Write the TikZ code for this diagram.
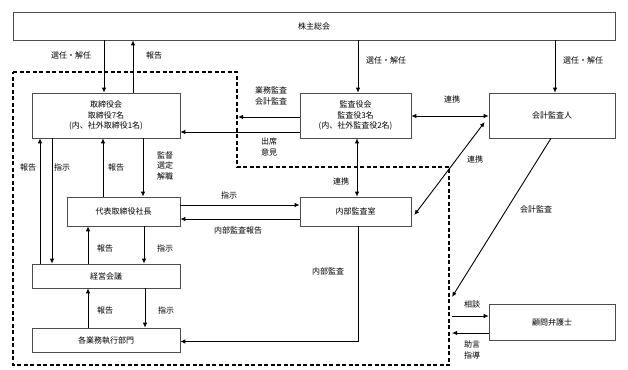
\documentclass[tikz,border=0pt]{standalone}
\usepackage{fontspec}
\setmainfont{Noto Sans CJK JP}
\usetikzlibrary{arrows.meta}
\begin{document}
\begin{tikzpicture}[x=1pt,y=-1pt,
  font=\fontsize{8}{10.5}\selectfont,
  box/.style={draw=black!70,line width=0.6pt,fill=white,inner sep=0pt,align=center},
  arr/.style={line width=0.9pt,-{Latex[length=5pt,width=4.5pt]}},
  dbl/.style={line width=0.9pt,{Latex[length=5pt,width=4.5pt]}-{Latex[length=5pt,width=4.5pt]}},
  lbl/.style={inner sep=0pt,align=center},
  bound/.style={line width=1.1pt,dash pattern=on 4pt off 2.5pt}]
\useasboundingbox (0,0) rectangle (628,369);
\fill[white] (0,0) rectangle (628,369);

% dashed boundary
\draw[bound] (13,72) -- (237,72) -- (237,167) -- (449,167) -- (449,365) -- (13,365) -- cycle;

% boxes
\node[box,minimum width=602pt,minimum height=28pt] (sh) at (314,26) {株主総会};
\node[box,minimum width=148pt,minimum height=45pt] (board) at (106,115.5) {取締役会\\取締役7名\\(内、社外取締役1名)};
\node[box,minimum width=111pt,minimum height=45pt] (kansa) at (355.5,115.5) {監査役会\\監査役3名\\(内、社外監査役2名)};
\node[box,minimum width=126pt,minimum height=45pt] (kaikei) at (552,115.5) {会計監査人};
\node[box,minimum width=113pt,minimum height=29pt] (pres) at (123.5,211.5) {代表取締役社長};
\node[box,minimum width=111pt,minimum height=29pt] (naibu) at (355.5,211.5) {内部監査室};
\node[box,minimum width=148pt,minimum height=24pt] (keiei) at (106,276) {経営会議};
\node[box,minimum width=148pt,minimum height=24pt] (kaku) at (106,340) {各業務執行部門};
\node[box,minimum width=126pt,minimum height=36pt] (komon) at (552,322) {顧問弁護士};

% free ends on the boundary
\coordinate (bgyomu) at (238,117);
\coordinate (bkaikei) at (452,297);
\coordinate (bsodan) at (452,316);
\coordinate (bjogen) at (452,333);

% shareholders
\draw[arr] (104,0 |- sh.south) -- (104,0 |- board.north);
\draw[arr] (133,0 |- board.north) -- (133,0 |- sh.south);
\draw[arr] (358,0 |- sh.south) -- (358,0 |- kansa.north);
\draw[arr] (555,0 |- sh.south) -- (555,0 |- kaikei.north);

% auditors
\draw[dbl] (0,116 -| kansa.east) -- (0,116 -| kaikei.west);
\draw[arr] (0,117 -| kansa.west) -- (bgyomu);
\draw[arr] (0,132 -| kansa.west) -- (0,132 -| board.east);
\draw[dbl] (357,0 |- kansa.south) -- (357,0 |- naibu.north);
\draw[dbl] ([shift={(-4,6.5)}]kaikei.west) -- ([shift={(3,3.5)}]naibu.east);
\draw[arr] (551,0 |- kaikei.south) -- (bkaikei);

% board internal
\draw[arr] (40,0 |- keiei.north) -- (40,0 |- board.south);
\draw[arr] (52,0 |- board.south) -- (52,0 |- keiei.north);
\draw[arr] (103,0 |- pres.north) -- (103,0 |- board.south);
\draw[arr] (143,0 |- board.south) -- (143,0 |- pres.north);

\draw[arr] (0,205 -| pres.east) -- (0,205 -| naibu.west);
\draw[arr] (0,219 -| naibu.west) -- (0,219 -| pres.east);

\draw[arr] (88,0 |- keiei.north) -- (88,0 |- pres.south);
\draw[arr] (144,0 |- pres.south) -- (144,0 |- keiei.north);
\draw[arr] (88,0 |- kaku.north) -- (88,0 |- keiei.south);
\draw[arr] (145,0 |- keiei.south) -- (145,0 |- kaku.north);

\draw[arr] (358,0 |- naibu.south) |- ([yshift=-1.5pt]kaku.east);

% lawyer
\draw[arr] (bsodan) -- (bsodan -| komon.west);
\draw[arr] (bjogen -| komon.west) -- (bjogen);

% labels
\node[lbl] (l1) at (71,55) {選任・解任};
\node[lbl] (l2) at (154,55) {報告};
\node[lbl] (l3) at (386,60) {選任・解任};
\node[lbl] (l4) at (583,60) {選任・解任};
\node[lbl] (l5) at (452,99) {連携};
\node[lbl] (l6) at (271,96) {業務監査\\会計監査};
\node[lbl] (l7) at (269,147) {出席\\意見};
\node[lbl] (l8) at (28,167) {報告};
\node[lbl] (l9) at (62,167) {指示};
\node[lbl] (l10) at (116,167) {報告};
\node[lbl] (l11) at (165,165.5) {監督\\選定\\解職};
\node[lbl] (l12) at (229,195) {指示};
\node[lbl] (l13) at (238,230) {内部監査報告};
\node[lbl] (l14) at (341,181) {連携};
\node[lbl] (l15) at (475,159) {連携};
\node[lbl] (l16) at (536,209) {会計監査};
\node[lbl] (l17) at (328,271) {内部監査};
\node[lbl] (l18) at (105,248) {報告};
\node[lbl] (l19) at (165,248) {指示};
\node[lbl] (l20) at (105,310) {報告};
\node[lbl] (l21) at (166,310) {指示};
\node[lbl] (l22) at (472,304) {相談};
\node[lbl] (l23) at (472,350) {助言\\指導};
\end{tikzpicture}
\end{document}
